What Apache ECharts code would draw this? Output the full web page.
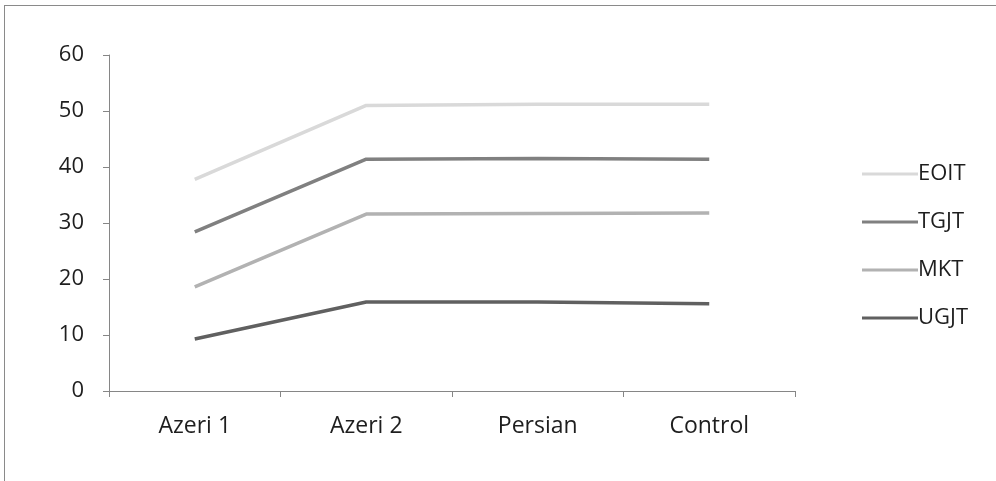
<!DOCTYPE html>
<html><head><meta charset="utf-8">
<script src="https://cdn.jsdelivr.net/npm/echarts@6/dist/echarts.min.js"></script>
<style>html,body{margin:0;padding:0;background:#fff}#c{width:996px;height:481px}</style>
</head><body><div id="c"></div>
<script>
var categories = ['Azeri 1', 'Azeri 2', 'Persian', 'Control'];
var seriesNames = ['EOIT', 'TGJT', 'MKT', 'UGJT'];
var EOIT = [37.8, 51.0, 51.2, 51.2];
var TGJT = [28.4, 41.4, 41.5, 41.4];
var MKT = [18.6, 31.6, 31.7, 31.8];
var UGJT = [9.3, 15.9, 15.9, 15.6];
var seriesValues = [EOIT, TGJT, MKT, UGJT];
var colors = ['#d9d9d9', '#808080', '#b2b2b2', '#606060'];
var yTicks = [0, 10, 20, 30, 40, 50, 60];

var font = '"Open Sans", sans-serif';
var chart = echarts.init(document.getElementById('c'));
chart.setOption({
  animation: false,
  backgroundColor: '#fff',
  graphic: [
    {type: 'line', shape: {x1: 4, y1: 5.5, x2: 996, y2: 5.5}, style: {stroke: '#8a8a8a', lineWidth: 1}},
    {type: 'line', shape: {x1: 4.5, y1: 5, x2: 4.5, y2: 481}, style: {stroke: '#8a8a8a', lineWidth: 1}}
  ],
  grid: {left: 109, right: 201, top: 55, bottom: 90},
  legend: {
    orient: 'vertical', left: 857, top: 156,
    itemWidth: 56, itemHeight: 3, itemGap: 22, icon: 'rect',
    textStyle: {fontFamily: font, fontSize: 22, color: '#1e1e1e', lineHeight: 26, padding: [0,0,0,-5]},
    data: seriesNames
  },
  xAxis: {
    type: 'category', data: categories, boundaryGap: true,
    axisLine: {lineStyle: {color: '#868686', width: 1}},
    axisTick: {show: true, length: 6, lineStyle: {color: '#868686'}},
    axisLabel: {fontFamily: font, fontSize: 23, color: '#1e1e1e', margin: 24}
  },
  yAxis: {
    type: 'value', min: yTicks[0], max: yTicks[yTicks.length-1], interval: 10,
    axisLine: {show: true, lineStyle: {color: '#868686', width: 1}},
    axisTick: {show: true, length: 6, lineStyle: {color: '#868686'}},
    splitLine: {show: false},
    axisLabel: {fontFamily: font, fontSize: 22, color: '#1e1e1e', margin: 25}
  },
  series: seriesNames.map(function(n, i){
    return {
      name: n, type: 'line', data: seriesValues[i], symbol: 'none',
      lineStyle: {color: colors[i], width: 3.5}, itemStyle: {color: colors[i]}
    };
  })
});
</script></body></html>
